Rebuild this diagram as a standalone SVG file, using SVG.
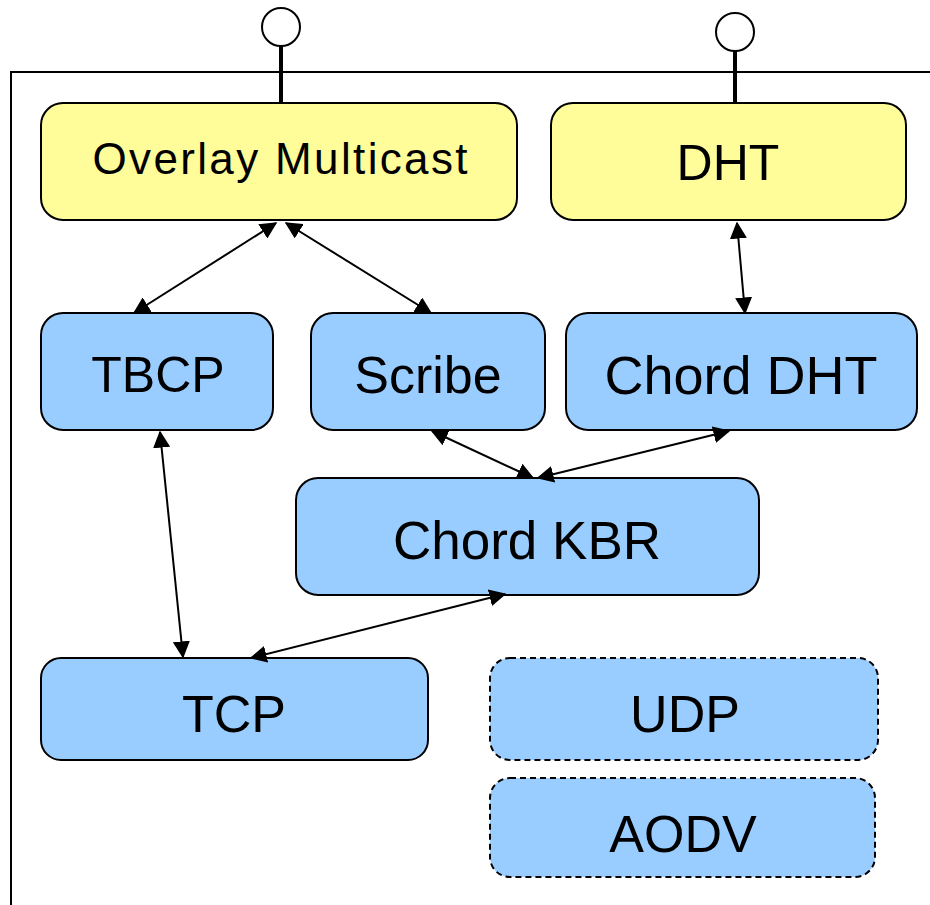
<svg xmlns="http://www.w3.org/2000/svg" width="930" height="905" viewBox="0 0 930 905">
<style>
.box{stroke:#000;stroke-width:2}
.y{fill:#FFFD9A}
.b{fill:#99CCFF}
.d{stroke-dasharray:6 4}
text{font-family:"Liberation Sans",Arial,sans-serif;fill:#000;text-anchor:middle;dominant-baseline:central}
.c{stroke:#000;stroke-width:2;fill:none;marker-start:url(#ah);marker-end:url(#ah)}
</style>
<defs>
<marker id="ah" viewBox="0 0 12 12" refX="11" refY="6" markerWidth="8.5" markerHeight="8.5" orient="auto-start-reverse" markerUnits="strokeWidth">
<path d="M0,0 L12,6 L0,12 Z" fill="#000"/>
</marker>
</defs>
<rect width="930" height="905" fill="#fff"/>
<g id="frame">
<path d="M930,72 H11 V905" stroke="#000" stroke-width="2" fill="none"/>
</g>
<g id="ports">
<line x1="281" y1="46" x2="281" y2="103" stroke="#000" stroke-width="4"/>
<circle cx="281" cy="27" r="19" fill="#fff" stroke="#000" stroke-width="2"/>
<line x1="735" y1="51" x2="735" y2="103" stroke="#000" stroke-width="4"/>
<circle cx="735" cy="32" r="19" fill="#fff" stroke="#000" stroke-width="2"/>
</g>
<g id="overlay-multicast">
<rect class="box y" x="41" y="103" width="476" height="117" rx="22"/>
<text x="280" y="158" font-size="44" textLength="375" lengthAdjust="spacing">Overlay Multicast</text>
</g>
<g id="dht">
<rect class="box y" x="551" y="103" width="355" height="117" rx="22"/>
<text x="728" y="163" font-size="50">DHT</text>
</g>
<g id="tbcp">
<rect class="box b" x="41" y="313" width="232" height="117" rx="22"/>
<text x="158" y="375" font-size="50">TBCP</text>
</g>
<g id="scribe">
<rect class="box b" x="311" y="313" width="234" height="117" rx="22"/>
<text x="428" y="375" font-size="52">Scribe</text>
</g>
<g id="chord-dht">
<rect class="box b" x="566" y="313" width="351" height="117" rx="22"/>
<text x="741" y="375" font-size="54">Chord DHT</text>
</g>
<g id="chord-kbr">
<rect class="box b" x="296" y="478" width="463" height="117" rx="22"/>
<text x="527" y="540" font-size="53">Chord KBR</text>
</g>
<g id="tcp">
<rect class="box b" x="41" y="658" width="387" height="102" rx="20"/>
<text x="234" y="714" font-size="52">TCP</text>
</g>
<g id="udp">
<rect class="box b d" x="490" y="658" width="388" height="102" rx="20"/>
<text x="685" y="714" font-size="52">UDP</text>
</g>
<g id="aodv">
<rect class="box b d" x="490" y="778" width="385" height="99" rx="20"/>
<text x="683" y="834" font-size="52">AODV</text>
</g>
<g id="connectors">
<line class="c" x1="276" y1="223" x2="134" y2="313"/>
<line class="c" x1="286" y1="223" x2="431" y2="313"/>
<line class="c" x1="737" y1="223" x2="745" y2="313"/>
<line class="c" x1="432" y1="431" x2="533" y2="478"/>
<line class="c" x1="729" y1="431" x2="538" y2="478"/>
<line class="c" x1="160" y1="432" x2="183" y2="657"/>
<line class="c" x1="505" y1="594" x2="251" y2="658"/>
</g>
</svg>
